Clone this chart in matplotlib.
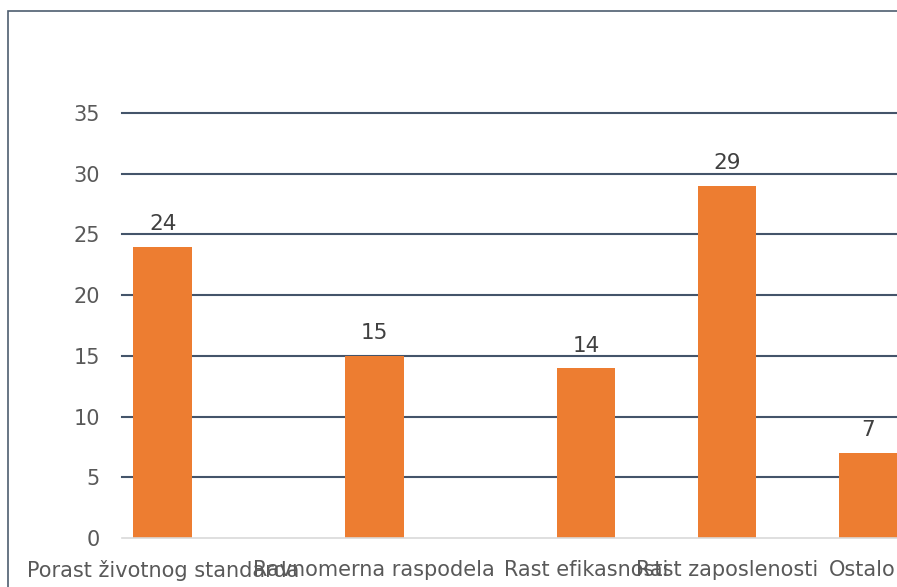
import numpy as np
import matplotlib
matplotlib.use("Agg")
import matplotlib.pyplot as plt
from matplotlib.patches import Rectangle
import matplotlib.transforms as mtrans

# empty slots are categories with no value in the source chart
categories = ["Porast životnog standarda", "", "", "Ravnomerna raspodela", "", "",
              "Rast efikasnosti", "", "Rast zaposlenosti", "", "Ostalo"]
values = [24, np.nan, np.nan, 15, np.nan, np.nan, 14, np.nan, 29, np.nan, 7]
y_ticks = [0, 5, 10, 15, 20, 25, 30, 35]

bar_color = "#ED7D31"
grid_color = "#44546A"
text_color = "#595959"

plt.rcParams["font.family"] = ["DejaVu Sans"]

fig = plt.figure(figsize=(8.97, 5.87), dpi=100)
ax = fig.add_axes([122 / 897, 49 / 587, 1 - 122 / 897, 425 / 587])

x = np.arange(len(categories))
bars = ax.bar(x, values, width=0.83, color=bar_color, zorder=3)

for xi, v in zip(x, values):
    if not np.isnan(v):
        ax.annotate(str(v), (xi, v), xytext=(0, 9), textcoords="offset points",
                    ha="center", va="bottom", fontsize=15.5, color="#404040")

ax.set_xlim(-0.577, 10.41)
ax.set_ylim(0, 35)
ax.set_yticks(y_ticks)
ax.set_xticks(x)
ax.set_xticklabels(categories)
ax.tick_params(axis="both", length=0, labelsize=15, labelcolor=text_color)
ax.tick_params(axis="y", pad=16)
ax.tick_params(axis="x", pad=16)
for lab in ax.get_yticklabels():
    lab.set_horizontalalignment("right")
# last label sits against the right edge
last = ax.get_xticklabels()[-1]
last.set_transform(last.get_transform() + mtrans.ScaledTranslation(-6 / 100, 0, fig.dpi_scale_trans))

ax.yaxis.grid(True, color=grid_color, linewidth=1.5, zorder=0)
for gl in ax.get_ygridlines():
    gl.set_clip_on(False)
for s in ["top", "right", "left"]:
    ax.spines[s].set_visible(False)
ax.spines["bottom"].set_color("#D9D9D9")
ax.spines["bottom"].set_linewidth(1.2)
ax.spines["bottom"].set_zorder(4)
ax.get_ygridlines()[0].set_visible(False)

# chart border (cropped at right and bottom)
fig.patches.append(Rectangle((8 / 897, -0.1), 1.2, (587 - 11) / 587 + 0.1,
                             transform=fig.transFigure, fill=False,
                             edgecolor="#4E5D70", linewidth=1.2))

fig.savefig("out.png", dpi=100)
